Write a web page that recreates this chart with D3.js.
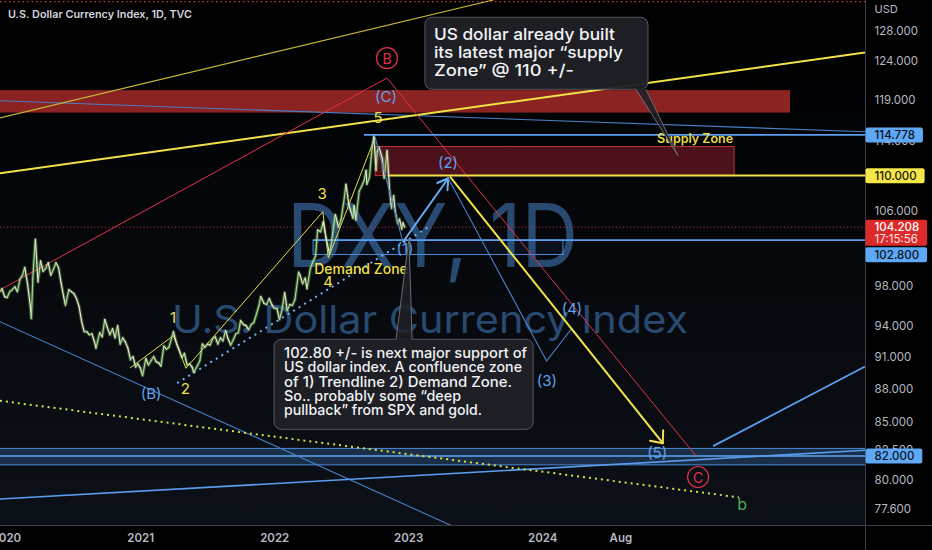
<!DOCTYPE html>
<html>
<head>
<meta charset="utf-8">
<script src="https://cdn.jsdelivr.net/npm/d3@7"></script>
<style>
  html, body { margin: 0; padding: 0; background: #000; }
  svg { display: block; }
</style>
</head>
<body>
<svg id="chart" width="932" height="550"></svg>
<script>
// DXY daily chart with Elliott wave markup

// price path: weekly closes plus the swing extremes
const priceSeries = [
  ["2019-12-16", 97.4], ["2019-12-20", 97.7], ["2019-12-27", 96.9], ["2020-01-03", 96.8],
  ["2020-01-10", 97.4], ["2020-01-17", 97.6], ["2020-01-24", 97.9], ["2020-01-31", 97.4],
  ["2020-02-07", 98.7], ["2020-02-14", 99.1], ["2020-02-20", 99.9], ["2020-02-28", 98.1],
  ["2020-03-06", 96.0], ["2020-03-09", 94.7], ["2020-03-13", 98.8], ["2020-03-19", 102.4],
  ["2020-03-20", 102.9], ["2020-03-27", 98.4], ["2020-04-03", 100.6], ["2020-04-10", 99.5],
  ["2020-04-17", 99.8], ["2020-04-24", 100.4], ["2020-05-01", 99.1], ["2020-05-08", 99.7],
  ["2020-05-15", 100.4], ["2020-05-22", 99.9], ["2020-05-29", 98.3], ["2020-06-05", 96.9],
  ["2020-06-10", 96.0], ["2020-06-19", 97.6], ["2020-06-26", 97.4], ["2020-07-03", 97.2],
  ["2020-07-10", 96.7], ["2020-07-17", 95.9], ["2020-07-24", 94.4], ["2020-07-31", 93.4],
  ["2020-08-07", 93.4], ["2020-08-14", 93.1], ["2020-08-21", 93.2], ["2020-08-28", 92.4],
  ["2020-09-01", 91.8], ["2020-09-11", 93.3], ["2020-09-18", 92.9], ["2020-09-25", 94.6],
  ["2020-10-02", 93.8], ["2020-10-09", 93.1], ["2020-10-16", 93.7], ["2020-10-23", 92.8],
  ["2020-10-30", 94.0], ["2020-11-06", 92.2], ["2020-11-13", 92.8], ["2020-11-20", 92.4],
  ["2020-11-27", 91.8], ["2020-12-04", 90.7], ["2020-12-11", 91.0], ["2020-12-18", 90.0],
  ["2020-12-24", 90.3], ["2020-12-31", 89.9], ["2021-01-06", 89.2], ["2021-01-15", 90.8],
  ["2021-01-22", 90.2], ["2021-01-29", 90.6], ["2021-02-05", 91.0], ["2021-02-12", 90.5],
  ["2021-02-19", 90.4], ["2021-02-25", 90.1], ["2021-03-05", 92.0], ["2021-03-12", 91.7],
  ["2021-03-19", 91.9], ["2021-03-26", 92.8], ["2021-03-31", 93.4], ["2021-04-09", 92.2],
  ["2021-04-16", 91.6], ["2021-04-23", 90.9], ["2021-04-30", 91.3], ["2021-05-07", 90.2],
  ["2021-05-14", 90.3], ["2021-05-21", 90.0], ["2021-05-25", 89.5], ["2021-06-04", 90.1],
  ["2021-06-11", 90.6], ["2021-06-18", 92.2], ["2021-06-25", 91.9], ["2021-07-02", 92.2],
  ["2021-07-09", 92.1], ["2021-07-16", 92.7], ["2021-07-23", 92.9], ["2021-07-30", 92.2],
  ["2021-08-06", 92.8], ["2021-08-13", 92.5], ["2021-08-20", 93.5], ["2021-08-27", 92.7],
  ["2021-09-03", 92.1], ["2021-09-10", 92.6], ["2021-09-17", 93.2], ["2021-09-24", 93.3],
  ["2021-09-30", 94.5], ["2021-10-08", 94.1], ["2021-10-15", 94.0], ["2021-10-22", 93.6],
  ["2021-10-29", 94.1], ["2021-11-05", 94.3], ["2021-11-12", 95.1], ["2021-11-19", 96.0],
  ["2021-11-24", 96.9], ["2021-12-03", 96.2], ["2021-12-10", 96.1], ["2021-12-17", 96.7],
  ["2021-12-24", 96.1], ["2021-12-31", 95.7], ["2022-01-07", 95.7], ["2022-01-14", 94.6],
  ["2022-01-21", 95.6], ["2022-01-28", 97.3], ["2022-02-04", 95.5], ["2022-02-11", 96.1],
  ["2022-02-18", 96.0], ["2022-02-25", 96.6], ["2022-03-07", 99.4], ["2022-03-11", 99.1],
  ["2022-03-18", 98.2], ["2022-03-25", 98.8], ["2022-03-30", 97.7], ["2022-04-08", 99.8],
  ["2022-04-15", 100.5], ["2022-04-22", 101.1], ["2022-04-28", 103.9], ["2022-05-06", 103.7],
  ["2022-05-13", 104.8], ["2022-05-20", 103.2], ["2022-05-30", 101.4], ["2022-06-03", 102.2],
  ["2022-06-10", 104.2], ["2022-06-15", 105.6], ["2022-06-24", 104.2], ["2022-07-01", 105.1],
  ["2022-07-08", 107.0], ["2022-07-14", 109.0], ["2022-07-22", 106.7], ["2022-08-02", 105.2],
  ["2022-08-05", 106.6], ["2022-08-10", 105.0], ["2022-08-19", 108.2], ["2022-08-26", 108.8],
  ["2022-09-02", 109.5], ["2022-09-07", 110.6], ["2022-09-09", 109.0], ["2022-09-16", 109.8],
  ["2022-09-23", 113.2], ["2022-09-28", 114.6], ["2022-10-04", 110.6], ["2022-10-07", 112.8],
  ["2022-10-12", 113.3], ["2022-10-21", 112.0], ["2022-10-26", 109.7], ["2022-11-03", 112.9],
  ["2022-11-10", 108.3], ["2022-11-15", 106.3], ["2022-11-21", 107.7], ["2022-11-25", 106.0],
  ["2022-12-02", 104.6], ["2022-12-07", 105.1], ["2022-12-13", 104.0], ["2022-12-16", 104.7],
  ["2022-12-21", 104.2]
];

// axis ticks
const yTicks = [128, 124, 119, 114, 106, 98, 94, 91, 88, 85, 82.5, 80, 77.6];
const xTickDates = ["2020-01-01", "2021-01-01", "2022-01-01", "2023-01-01", "2024-01-01", "2024-08-01"];
const xTickLabels = ["2020", "2021", "2022", "2023", "2024", "Aug"];

// price-scale badges
const badgeValues = [114.778, 110, 104.208, 102.8, 82];
const badgeSubtext = ["", "", "17:15:56", "", ""];

// drawings, as [decimal year, price]
const currentPrice = 104.208;
const topDottedLevel = 132;
const bigSupplyBand = [[2019.5, 120.3], [2025.843, 117.5]];
const supplyZone = [[2022.749, 113.4], [2025.426, 110.0]];
const demandZone = [[2022.286, 102.8], [2024.151, 101.27]];
const floorBand = [[2019.5, 82.65], [2026.6, 81.24]];
const floorMid = 82.0;
const level114 = [[2022.666, 114.778], [2026.6, 114.778]];
const level110 = [[2022.845, 110.0], [2026.6, 110.0]];
const level1028 = [[2022.286, 102.8], [2026.6, 102.8]];

const yellowFan = [[2019.952, 116.85], [2024.426, 135.8]];
const yellowTrend = [[2019.952, 110.26], [2026.403, 125.13]];
const blueUpper = [[2019.952, 118.97], [2026.403, 115.16]];
const redWave = [[2019.952, 97.58], [2022.838, 121.83], [2025.142, 82.0]];
const blueFalling = [[2019.952, 94.39], [2023.681, 74.5]];
const blueFloor = [[2019.952, 78.38], [2026.403, 82.49]];
const blueRebound = [[2025.269, 82.85], [2026.403, 90.06]];
const blueDots = [[2021.272, 88.51], [2023.159, 104.33]];
const yellowDots = [[2019.952, 86.88], [2025.461, 78.52]];

const impulseWave = [[2020.921, 89.92], [2021.244, 93.02], [2021.337, 89.89],
  [2022.359, 105.91], [2022.400, 100.9], [2022.749, 114.53]];
const bluePathDown = [[2022.749, 114.53], [2022.957, 102.6]];
const blueArrow = [[2022.957, 102.6], [2023.295, 109.69]];
const bluePathNext = [[2023.295, 109.69], [2024.029, 90.58], [2024.216, 93.73], [2024.852, 83.65]];
const yellowArrow = [[2023.308, 109.88], [2024.894, 83.1]];

const waveLabels = [["(C)", 2022.831, 119.44], ["(B)", 2021.078, 87.5], ["(1)", 2022.972, 101.96],
  ["(2)", 2023.293, 111.46], ["(3)", 2024.031, 88.7], ["(4)", 2024.218, 95.74], ["(5)", 2024.852, 82.34]];
const impulseLabels = [["1", 2021.242, 94.85], ["2", 2021.332, 87.96], ["3", 2022.354, 108.0],
  ["4", 2022.398, 98.4], ["5", 2022.771, 116.85]];
const circleLabels = [["B", 2022.838, 124.4], ["C", 2025.157, 80.21]];
const smallBLabel = ["b", 2025.486, 77.98];
const zoneLabels = [["Supply Zone", 2025.135, 114.4], ["Demand Zone", 2022.644, 99.84]];

const calloutTopLines = ["US dollar already built", "its latest major \u201Csupply", "Zone\u201D @ 110 +/-"];
const calloutTopAnchor = [2023.121, 129.84];
const calloutTopTip = [2025.008, 112.3];
const calloutBottomLines = ["102.80 +/- is next major support of", "US dollar index. A confluence zone",
  "of 1) Trendline 2) Demand Zone.", "So.. probably some \u201Cdeep", "pullback\u201D from SPX and gold."];
const calloutBottomAnchor = [2021.995, 92.66];
const calloutBottomTip = [2023.002, 103.0];

// ---- layout / style ----
const width = 932, height = 550;
const plotRight = 865, plotBottom = 525;
const font = "Inter, 'Noto Sans', 'DejaVu Sans', sans-serif";
const cBlue = "#5b9ef0", cBlueThin = "#4a7fc4", cYellow = "#f2e24a", cRed = "#e0334a";

const parseDate = d3.utcParse("%Y-%m-%d");
function yr(t) {
  const y0 = Math.floor(t);
  const a = Date.UTC(y0, 0, 1), b = Date.UTC(y0 + 1, 0, 1);
  return new Date(a + (t - y0) * (b - a));
}

const x = d3.scaleUtc()
  .domain([parseDate("2020-01-01"), parseDate("2024-01-01")])
  .range([6.4, 542.7]);
const y = d3.scaleLog()
  .domain([77.6, 128])
  .range([508.6, 30.9]);
const px = d => x(yr(d[0]));
const py = d => y(d[1]);
const line = d3.line().x(px).y(py);

const svg = d3.select("#chart");
const defs = svg.append("defs");
const grad = defs.append("linearGradient").attr("id", "bg")
  .attr("x1", 0).attr("y1", 0).attr("x2", 0).attr("y2", 1);
grad.append("stop").attr("offset", "0%").attr("stop-color", "#000000");
grad.append("stop").attr("offset", "100%").attr("stop-color", "#0c1018");
defs.append("clipPath").attr("id", "plot")
  .append("rect").attr("width", plotRight).attr("height", plotBottom);

svg.append("rect").attr("width", width).attr("height", height).attr("fill", "#000");
svg.append("rect").attr("width", plotRight).attr("height", plotBottom).attr("fill", "url(#bg)");

const g = svg.append("g").attr("clip-path", "url(#plot)");

// watermark
g.append("text").attr("x", 287).attr("y", 267).text("DXY, 1D")
  .attr("font-family", font).attr("font-size", 88).attr("fill", "#284a70")
  .attr("textLength", 291).attr("lengthAdjust", "spacingAndGlyphs");
g.append("text").attr("x", 172).attr("y", 333).text("U.S. Dollar Currency Index")
  .attr("font-family", font).attr("font-size", 38).attr("fill", "#284a70")
  .attr("textLength", 516).attr("lengthAdjust", "spacingAndGlyphs");

function drawPath(pts, stroke, w, dash) {
  return g.append("path").attr("d", line(pts)).attr("fill", "none")
    .attr("stroke", stroke).attr("stroke-width", w)
    .attr("stroke-dasharray", dash || null);
}
function drawBox(box, fill, stroke) {
  const x0 = px(box[0]), x1 = px(box[1]);
  const y0 = py(box[0]), y1 = py(box[1]);
  return g.append("rect").attr("x", x0).attr("y", y0)
    .attr("width", x1 - x0).attr("height", y1 - y0)
    .attr("fill", fill).attr("stroke", stroke || "none").attr("stroke-width", 1);
}
function hLevel(v, stroke, w, dash) {
  g.append("line").attr("x1", 0).attr("x2", plotRight)
    .attr("y1", y(v)).attr("y2", y(v))
    .attr("stroke", stroke).attr("stroke-width", w).attr("stroke-dasharray", dash || null);
}
function arrowHead(pts, stroke, w, len, spread) {
  const a = pts[pts.length - 2], b = pts[pts.length - 1];
  const ax = px(a), ay = py(a), bx = px(b), by = py(b);
  const ang = Math.atan2(ay - by, ax - bx);
  [ang - spread, ang + spread].forEach(t => {
    g.append("line").attr("x1", bx).attr("y1", by)
      .attr("x2", bx + len * Math.cos(t)).attr("y2", by + len * Math.sin(t))
      .attr("stroke", stroke).attr("stroke-width", w).attr("stroke-linecap", "round");
  });
}

// levels and zones
hLevel(topDottedLevel, "#d23a3a", 1.2, "1.5,3");
drawBox(bigSupplyBand, "#8a2321");
drawBox(floorBand, "rgba(70,130,200,0.28)", "#4a8ad8");
hLevel(floorMid, "#5ea6f2", 1.5);
drawBox(supplyZone, "rgba(150,30,45,0.5)", "#b83236");
drawBox(demandZone, "rgba(70,130,200,0.08)", "#4a8ad8");
hLevel(currentPrice, "#b8324a", 1, "1,2.5");

// trend lines
drawPath(blueUpper, cBlueThin, 1.1);
drawPath(yellowFan, "#c4b43a", 1.1);
drawPath(yellowTrend, cYellow, 2);
drawPath(redWave, cRed, 1);
drawPath(blueFalling, cBlueThin, 1.1);
drawPath(blueFloor, cBlue, 1.6);
drawPath(blueRebound, cBlue, 1.8);
drawPath(level114, cBlue, 1.8);
drawPath(level110, cYellow, 2);
drawPath(level1028, cBlue, 1.8);
drawPath(blueDots, "#72b2f2", 2, "2,4.5");
drawPath(yellowDots, "#d6e04e", 2, "2,4");

// impulse zigzag
drawPath(impulseWave, "#e6da4c", 1);

// price bars: a soft wide stroke under the thin up/down segments
const parsed = priceSeries.map(d => [parseDate(d[0]), d[1]]);
g.append("path").datum(parsed)
  .attr("d", d3.line().x(d => x(d[0])).y(d => y(d[1])))
  .attr("fill", "none").attr("stroke", "#8fcf7a").attr("stroke-opacity", 0.35)
  .attr("stroke-width", 3.4).attr("stroke-linejoin", "round");
g.selectAll(".seg").data(d3.pairs(parsed)).join("line").attr("class", "seg")
  .attr("x1", d => x(d[0][0])).attr("y1", d => y(d[0][1]))
  .attr("x2", d => x(d[1][0])).attr("y2", d => y(d[1][1]))
  .attr("stroke", d => d[1][1] >= d[0][1] ? "#a4d88c" : "#e8e6c8")
  .attr("stroke-width", 1.2).attr("stroke-linecap", "round");

// projected waves
drawPath(bluePathDown, cBlueThin, 1.1);
drawPath(blueArrow, "#6aaef2", 2);
arrowHead(blueArrow, "#6aaef2", 2, 12, 0.55);
drawPath(bluePathNext, cBlueThin, 1.1);
drawPath(yellowArrow, cYellow, 2);
arrowHead(yellowArrow, cYellow, 2, 13, 0.7);

// labels
function label(d, color, size, weight) {
  g.append("text").attr("x", x(yr(d[1]))).attr("y", y(d[2]))
    .attr("text-anchor", "middle").attr("dominant-baseline", "central")
    .attr("font-family", font).attr("font-size", size).attr("font-weight", weight || 400)
    .attr("fill", color).text(d[0]);
}
waveLabels.forEach(d => label(d, "#5ea2ec", 15));
impulseLabels.forEach(d => label(d, "#f0e04a", 15));
label(smallBLabel, "#4caf50", 16);
label(zoneLabels[0], "#e8d848", 12.5, 600);
label(zoneLabels[1], "#f0e04a", 14, 500);
circleLabels.forEach(d => {
  g.append("circle").attr("cx", x(yr(d[1]))).attr("cy", y(d[2])).attr("r", 10.5)
    .attr("fill", "none").attr("stroke", cRed).attr("stroke-width", 1.2);
  label(d, cRed, 14);
});

// callouts
function callout(lines, anchor, tip, opt) {
  const bx = px(anchor), by = py(anchor);
  const tx = px(tip), ty = py(tip);
  const layer = svg.append("g");
  const b0 = bx + opt.tail[0], b1 = bx + opt.tail[1];
  const baseY = opt.up ? by : by + opt.h;
  layer.append("rect").attr("x", bx).attr("y", by).attr("width", opt.w).attr("height", opt.h)
    .attr("rx", 7).attr("fill", "#1e2026").attr("fill-opacity", 0.96)
    .attr("stroke", "#55585f").attr("stroke-width", 1);
  const inset = opt.up ? 1 : -1;
  layer.append("polygon")
    .attr("points", [[b0, baseY + inset], [tx, ty], [b1, baseY + inset]].map(p => p.join(",")).join(" "))
    .attr("fill", "#1e2026").attr("fill-opacity", 0.85);
  layer.append("polyline")
    .attr("points", [[b0, baseY], [tx, ty], [b1, baseY]].map(p => p.join(",")).join(" "))
    .attr("fill", "none").attr("stroke", "#6a6d75").attr("stroke-width", 1);
  lines.forEach((t, i) => {
    layer.append("text").attr("x", bx + opt.padX).attr("y", by + opt.first + i * opt.gap)
      .attr("font-family", font).attr("font-size", opt.size).attr("font-weight", 500)
      .attr("fill", "#f2f3f5").attr("textLength", opt.lengths[i])
      .attr("lengthAdjust", "spacingAndGlyphs").text(t);
  });
}
callout(calloutTopLines, calloutTopAnchor, calloutTopTip,
  { w: 223, h: 72, tail: [211, 221], padX: 9, first: 23, gap: 18, size: 16.5, lengths: [181, 189, 140] });
callout(calloutBottomLines, calloutBottomAnchor, calloutBottomTip,
  { w: 259, h: 90, tail: [122, 138], up: true, padX: 10, first: 19, gap: 14.2, size: 14.5,
    lengths: [243, 238, 228, 177, 198] });

// title
svg.append("text").attr("x", 8).attr("y", 18).text("U.S. Dollar Currency Index, 1D, TVC")
  .attr("font-family", font).attr("font-size", 10.5).attr("font-weight", 600).attr("fill", "#d1d4dc")
  .attr("textLength", 184).attr("lengthAdjust", "spacingAndGlyphs");

// axes frame
svg.append("line").attr("x1", plotRight + 0.5).attr("x2", plotRight + 0.5).attr("y1", 0).attr("y2", height)
  .attr("stroke", "#3a3d45");
svg.append("line").attr("x1", 0).attr("x2", width).attr("y1", plotBottom + 0.5).attr("y2", plotBottom + 0.5)
  .attr("stroke", "#3a3d45");

const axisText = { family: font, size: 11.5, color: "#b7bac2" };
svg.append("text").attr("x", 874.6).attr("y", 13).text("USD")
  .attr("font-family", axisText.family).attr("font-size", 11).attr("fill", axisText.color);

svg.selectAll(".ytick").data(yTicks).join("text").attr("class", "ytick")
  .attr("x", 874.6).attr("y", d => y(d)).attr("dominant-baseline", "central")
  .attr("font-family", axisText.family).attr("font-size", axisText.size).attr("fill", axisText.color)
  .text(d3.format(".3f"));

svg.selectAll(".xtick").data(xTickDates).join("text").attr("class", "xtick")
  .attr("x", d => x(parseDate(d))).attr("y", 538).attr("text-anchor", "middle")
  .attr("dominant-baseline", "central")
  .attr("font-family", axisText.family).attr("font-size", axisText.size).attr("font-weight", 600)
  .attr("fill", axisText.color)
  .text((d, i) => xTickLabels[i]);

// price badges, pushed down when they collide
const badgeFill = ["#5ea8f5", "#f5e64a", "#dc2a2a", "#5ea8f5", "#5ea8f5"];
const badgeInk = ["#0b1220", "#1a1600", "#ffffff", "#0b1220", "#0b1220"];
let lastBottom = -Infinity;
badgeValues.forEach((v, i) => {
  const two = badgeSubtext[i] !== "";
  const h = two ? 26 : 15;
  let top = y(v) - 7.4;
  if (top < lastBottom + 1.5) top = lastBottom + 1.5;
  lastBottom = top + h;
  const bg = svg.append("g");
  const t = bg.append("text").attr("x", 874.6).attr("y", top + 7.6).attr("dominant-baseline", "central")
    .attr("font-family", axisText.family).attr("font-size", axisText.size).attr("font-weight", 500)
    .attr("fill", badgeInk[i]).text(d3.format(".3f")(v));
  const tw = t.node().getComputedTextLength();
  bg.insert("rect", "text").attr("x", plotRight + 0.5).attr("y", top)
    .attr("width", tw + 17).attr("height", h).attr("rx", 2).attr("fill", badgeFill[i]);
  if (two) {
    bg.append("text").attr("x", 874.6).attr("y", top + 19.6).attr("dominant-baseline", "central")
      .attr("font-family", axisText.family).attr("font-size", axisText.size)
      .attr("fill", "#ffe4e4").text(badgeSubtext[i]);
  }
});
</script>
</body>
</html>
